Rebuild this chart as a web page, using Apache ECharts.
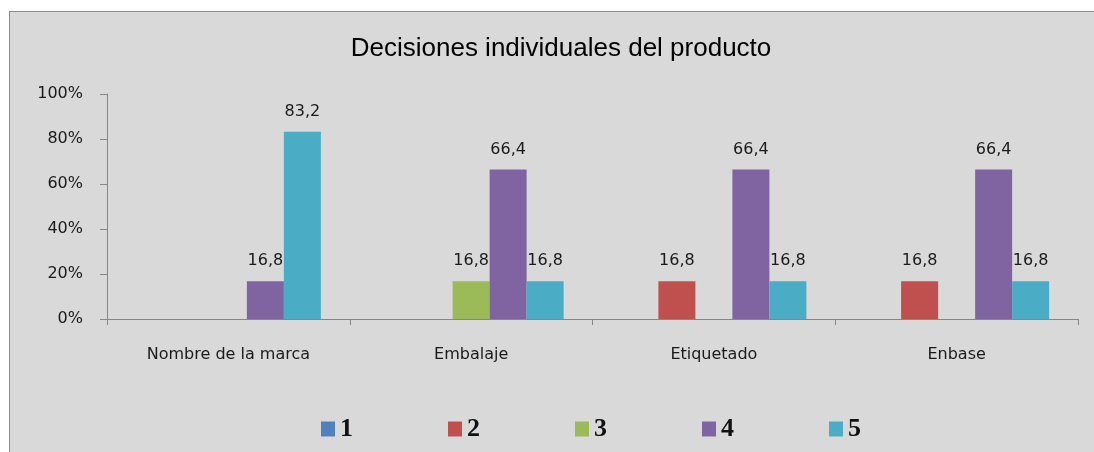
<!DOCTYPE html>
<html><head><meta charset="utf-8">
<script src="https://cdn.jsdelivr.net/npm/echarts@6/dist/echarts.min.js"></script>
<style>
html,body{margin:0;padding:0;background:#fff;width:1094px;height:452px;overflow:hidden;}
#box{position:absolute;left:9px;top:11px;width:1100px;height:460px;background:#d9d9d9;border:1px solid #8c8c8c;box-sizing:border-box;}
#c{position:absolute;left:0;top:0;width:1094px;height:452px;}
</style></head>
<body>
<div id="box"></div>
<div id="c"></div>
<script>
const title = 'Decisiones individuales del producto';
const categories = ['Nombre de la marca', 'Embalaje', 'Etiquetado', 'Enbase'];
const seriesNames = ['1', '2', '3', '4', '5'];
const s1 = [0, 0, 0, 0];
const s2 = [0, 0, 16.8, 16.8];
const s3 = [0, 16.8, 0, 0];
const s4 = [16.8, 66.4, 66.4, 66.4];
const s5 = [83.2, 16.8, 16.8, 16.8];
const colors = ['#4f81bd', '#c0504d', '#9bbb59', '#8064a2', '#4bacc6'];
const yTicks = [0, 20, 40, 60, 80, 100];

const values = [s1, s2, s3, s4, s5];
const chart = echarts.init(document.getElementById('c'), null, {renderer: 'canvas'});
chart.setOption({
  animation: false,
  backgroundColor: 'transparent',
  color: colors,
  title: {
    text: title, left: 556, top: 31, textAlign: 'center',
    textStyle: {fontFamily: 'Liberation Sans', fontSize: 26, fontWeight: 'normal', color: '#000'}
  },
  legend: {
    left: 316, top: 411, itemWidth: 14, itemHeight: 15, itemGap: 95,
    icon: 'rect',
    textStyle: {fontFamily: 'Liberation Serif', fontSize: 26, fontWeight: 'bold', color: '#111', padding: [2,0,0,0]},
    data: seriesNames
  },
  grid: {left: 107, right: 16, top: 94, bottom: 133, containLabel: false},
  xAxis: {
    type: 'category', data: categories,
    axisLine: {lineStyle: {color: '#868686', width: 1}},
    axisTick: {show: true, length: 6, lineStyle: {color: '#868686'}},
    axisLabel: {margin: 28, fontFamily: 'DejaVu Sans', fontSize: 16, color: '#1a1a1a'}
  },
  yAxis: {
    type: 'value', min: yTicks[0], max: yTicks[yTicks.length-1], interval: 20,
    axisLine: {show: true, lineStyle: {color: '#868686', width: 1}},
    axisTick: {show: true, length: 7, lineStyle: {color: '#868686'}},
    splitLine: {show: false},
    axisLabel: {formatter: '{value}%', margin: 24, fontFamily: 'DejaVu Sans', fontSize: 16, color: '#1a1a1a'}
  },
  series: seriesNames.map((n, i) => ({
    name: n, type: 'bar', data: values[i],
    barWidth: 37, barGap: '0%',
    itemStyle: {color: colors[i]},
    label: {
      show: true, position: 'top', distance: 12,
      fontFamily: 'DejaVu Sans', fontSize: 16, color: '#1a1a1a',
      formatter: p => p.value ? String(p.value).replace('.', ',') : ''
    }
  }))
});
</script>
</body></html>
